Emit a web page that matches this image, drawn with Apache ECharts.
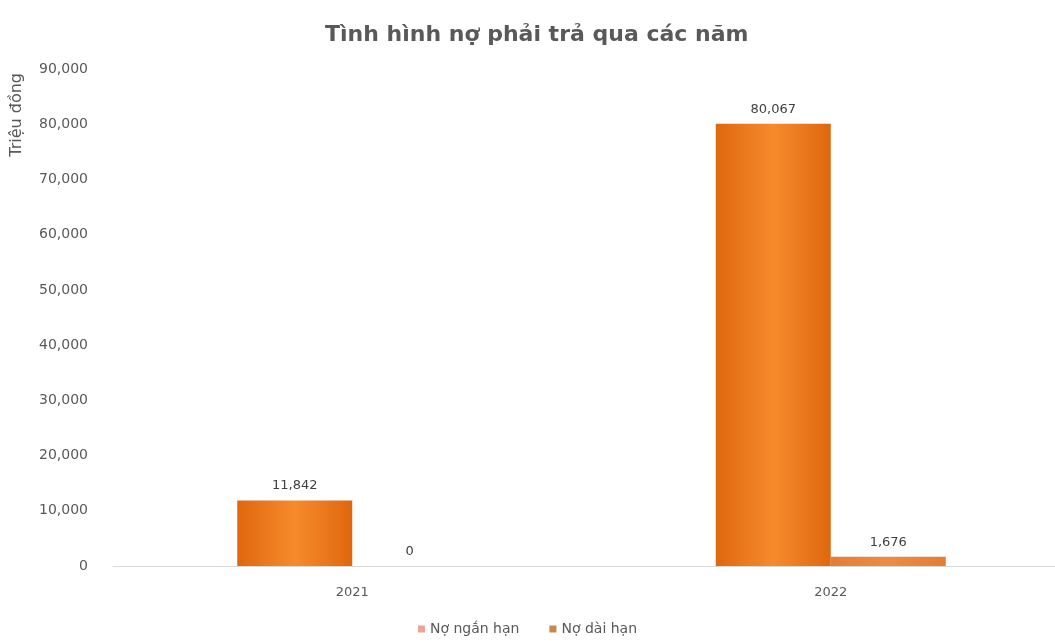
<!DOCTYPE html>
<html>
<head>
<meta charset="utf-8">
<script src="https://cdn.jsdelivr.net/npm/echarts@6/dist/echarts.min.js"></script>
<style>
  html, body { margin: 0; padding: 0; background: #ffffff; }
  #chart { width: 1055px; height: 643px; }
</style>
</head>
<body>
<div id="chart"></div>
<script>
// Debt by year (million VND)
const years = ['2021', '2022'];
const shortTermDebt = [11842, 80067];
const longTermDebt = [0, 1676];
const seriesNames = ['Nợ ngắn hạn', 'Nợ dài hạn'];
const yTicks = { min: 0, max: 90000, interval: 10000 };
const unitLabel = 'Triệu đồng';

const fmt = v => Number(v).toLocaleString('en-US');
const FONT = 'DejaVu Sans, Verdana, sans-serif';

const chart = echarts.init(document.getElementById('chart'));

// Bars are shaded lighter in the middle and darker toward the edges
const deepOrange = {
  type: 'linear', x: 0, y: 0, x2: 1, y2: 0,
  colorStops: [
    { offset: 0, color: '#df670e' },
    { offset: 0.5, color: '#f68b2c' },
    { offset: 1, color: '#df670e' }
  ]
};
const lightOrange = {
  type: 'linear', x: 0, y: 0, x2: 1, y2: 0,
  colorStops: [
    { offset: 0, color: '#e37d34' },
    { offset: 0.5, color: '#ec8c44' },
    { offset: 1, color: '#e37d34' }
  ]
};

const labelStyle = {
  show: true,
  position: 'top',
  distance: 8,
  fontSize: 13,
  color: '#404040',
  fontFamily: FONT,
  formatter: p => fmt(p.value)
};

chart.setOption({
  backgroundColor: '#ffffff',
  animation: false,
  title: {
    text: 'Tình hình nợ phải trả qua các năm',
    left: 320,
    top: 19,
    textStyle: {
      fontSize: 22,
      fontWeight: 'bold',
      color: '#595959',
      fontFamily: FONT
    }
  },
  legend: {
    bottom: 2,
    left: 'center',
    itemWidth: 7,
    itemHeight: 7,
    itemGap: 30,
    icon: 'rect',
    textStyle: {
      fontSize: 14,
      color: '#595959',
      fontFamily: FONT
    },
    data: [
      { name: seriesNames[0], itemStyle: { color: '#e9a696' } },
      { name: seriesNames[1], itemStyle: { color: '#c9864f' } }
    ]
  },
  graphic: [
    {
      type: 'text',
      left: 9,
      top: 73,
      rotation: Math.PI / 2,
      style: {
        text: unitLabel,
        fontSize: 16,
        fill: '#595959',
        fontFamily: FONT
      }
    }
  ],
  grid: {
    left: 113,
    right: -15,
    top: 69,
    bottom: 77,
    outerBoundsMode: 'none'
  },
  xAxis: {
    type: 'category',
    data: years,
    axisLine: { lineStyle: { color: '#d9d9d9', width: 1 } },
    axisTick: { show: false },
    axisLabel: {
      fontSize: 13,
      color: '#595959',
      margin: 20,
      fontFamily: FONT
    }
  },
  yAxis: {
    type: 'value',
    min: yTicks.min,
    max: yTicks.max,
    interval: yTicks.interval,
    axisLine: { show: false },
    axisTick: { show: false },
    splitLine: { show: false },
    axisLabel: {
      fontSize: 14,
      color: '#595959',
      margin: 25,
      fontFamily: FONT,
      formatter: v => fmt(v)
    }
  },
  series: [
    {
      name: seriesNames[0],
      type: 'bar',
      data: shortTermDebt,
      barWidth: 115,
      barGap: '0%',
      itemStyle: { color: deepOrange },
      label: labelStyle
    },
    {
      name: seriesNames[1],
      type: 'bar',
      data: longTermDebt,
      barWidth: 115,
      barGap: '0%',
      itemStyle: { color: lightOrange },
      label: labelStyle
    }
  ]
});
</script>
</body>
</html>
